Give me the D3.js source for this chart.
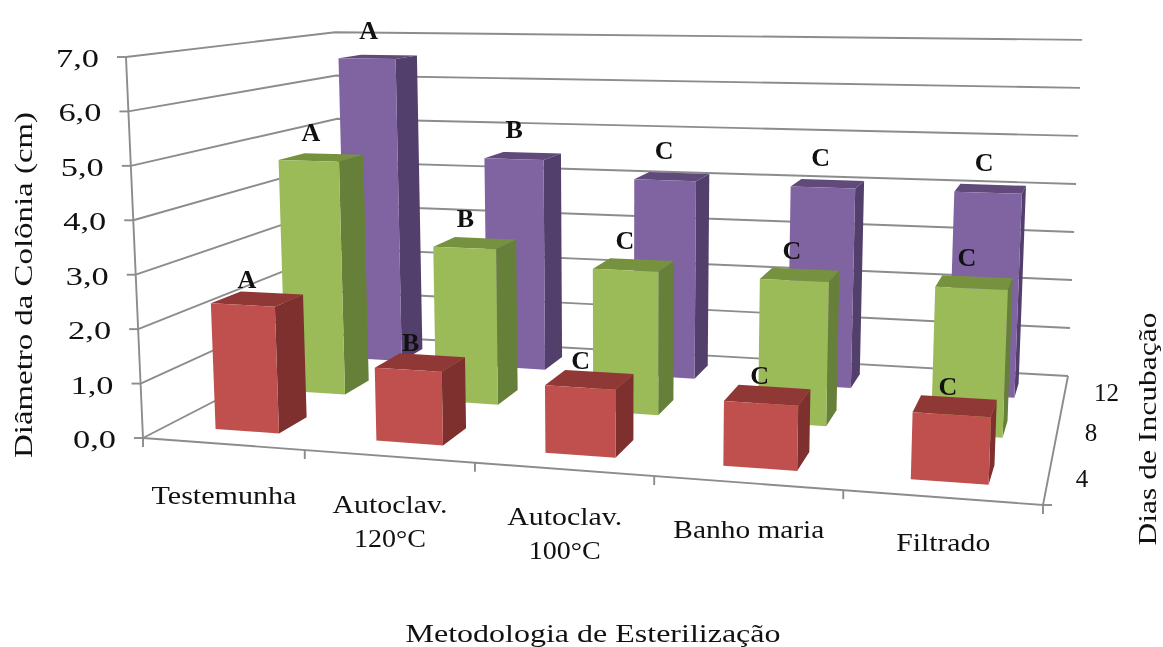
<!DOCTYPE html>
<html><head><meta charset="utf-8">
<script src="https://cdn.jsdelivr.net/npm/d3@7"></script>
<style>html,body{margin:0;background:#fff}svg{display:block;filter:blur(0.45px)}text{font-family:"Liberation Serif",serif;fill:#111}</style>
</head><body><svg id="c" width="1163" height="647"></svg>
<script>
const categories=["Testemunha","Autoclav.|120°C","Autoclav.|100°C","Banho maria","Filtrado"];
const days=["4","8","12"];
const day4=[2.35,1.33,1.2,1.12,1.13];
const day8=[4.68,3.05,2.75,2.7,2.7];
const day12=[6.55,4.45,4.1,4.05,4.05];
const letters4=["A","B","C","C","C"];
const letters8=["A","B","C","C","C"];
const letters12=["A","B","C","C","C"];
const yTicks=[0,1,2,3,4,5,6,7];
const yLabels=["0,0","1,0","2,0","3,0","4,0","5,0","6,0","7,0"];
const colors4=["#c0504d","#8f3836","#7d302e"];
const colors8=["#9bbb59","#76923f","#667f39"];
const colors12=["#8064a2","#604a7b","#533f6c"];

// floor of the 3D frame: [front-left, front-right, back-right, back-left]
const floorQuad=[[143,438],[1043,505],[1068,376],[343,335]];
function homography(q){
  const [[x0,y0],[x1,y1],[x2,y2],[x3,y3]]=q;
  const dx1=x1-x2,dx2=x3-x2,sx=x0-x1+x2-x3,dy1=y1-y2,dy2=y3-y2,sy=y0-y1+y2-y3;
  const d=dx1*dy2-dx2*dy1;
  const g=(sx*dy2-dx2*sy)/d,h=(dx1*sy-sx*dy1)/d;
  const a=x1-x0+g*x1,b=x3-x0+h*x3,c=x0,e=y1-y0+g*y1,f=y3-y0+h*y3,i=y0;
  return (u,v)=>{const w=g*u+h*v+1;return [(a*u+b*v+c)/w,(e*u+f*v+i)/w,w];};
}
const floorH=homography(floorQuad);
const wallHeight=381, leanCentre=620, leanRate=0.0000937;
const yS=d3.scaleLinear().domain([0,7]).range([0,1]);
const xS=d3.scaleBand().domain(categories).range([0.002,1.002]).paddingInner(0.6).paddingOuter(0.3);
const zS=d3.scaleBand().domain(days).range([0,1]).paddingInner(0.6).paddingOuter(0.3);
function P(u,v,t){const a=floorH(u,v),H=wallHeight/a[2]*(1-0.01*v)*t;return [a[0]+H*(a[0]-leanCentre)*leanRate,a[1]-H];}

const svg=d3.select("#c");
const gGrid=svg.append("g").attr("fill","none").attr("stroke","#8c8c8c").attr("stroke-width",1.9);
const line=d3.line();
yTicks.forEach(y=>{const t=yS(y);
  gGrid.append("path").attr("d",line([P(0,0,t),P(0,1,t),P(1,1,t)]));
});
gGrid.append("path").attr("d",line([P(0,0,0),P(0,0,1)]));
gGrid.append("path").attr("d",line([P(0,0,0),P(1,0,0),P(1,1,0)]));
yTicks.forEach(y=>{const p=P(0,0,yS(y));gGrid.append("path").attr("d",line([[p[0]-9,p[1]],p]));});
d3.range(categories.length+1).forEach(i=>{const p=P(i/categories.length,0,0);gGrid.append("path").attr("d",line([p,[p[0],p[1]+9]]));});
const zp=P(1,0,0);gGrid.append("path").attr("d",line([zp,[zp[0]+9,zp[1]]]));

const series=[
 {d:"12",vals:day12,col:colors12,let:letters12,dx:-2,dy:-2},
 {d:"8",vals:day8,col:colors8,let:letters8,dx:-3,dy:0},
 {d:"4",vals:day4,col:colors4,let:letters4,dx:-3,dy:5}];
const labels=[];
const gBars=svg.append("g");
series.forEach(s=>{
  const v0=zS(s.d),v1=v0+zS.bandwidth();
  categories.forEach((c,i)=>{
    const u0=xS(c),u1=u0+xS.bandwidth(),t=yS(s.vals[i]);
    const g=gBars.append("g");
    const poly=(pts,col)=>g.append("polygon").attr("points",pts.map(p=>p.join(",")).join(" ")).attr("fill",col);
    poly([P(u0,v0,t),P(u1,v0,t),P(u1,v1,t),P(u0,v1,t)],s.col[1]);
    poly([P(u1,v0,0),P(u1,v1,0),P(u1,v1,t),P(u1,v0,t)],s.col[2]);
    poly([P(u0,v0,0),P(u1,v0,0),P(u1,v0,t),P(u0,v0,t)],s.col[0]);
    const top=P((u0+u1)/2,(v0+v1)/2,t);
    labels.push({x:top[0]-8+4*(u0+u1)/2+s.dx,y:top[1]+s.dy,t:s.let[i]});
  });
});
svg.append("g").selectAll("text").data(labels).join("text")
  .attr("x",d=>d.x).attr("y",d=>d.y-16).attr("text-anchor","middle")
  .attr("font-size",26).attr("font-weight","bold").text(d=>d.t);
svg.append("g").selectAll("text").data(yTicks).join("text")
  .attr("x",y=>P(0,0,yS(y))[0]-27).attr("y",y=>P(0,0,yS(y))[1]+10)
  .attr("text-anchor","end").attr("font-size",25).attr("textLength",43).attr("lengthAdjust","spacingAndGlyphs").text((y,i)=>yLabels[i]);
const gx=svg.append("g");
const lblOff=[60,57,56,55,53];
const lblLen=[[145],[115,72],[115,72],[151],[94]];
categories.forEach((c,i)=>{
  const p=P(xS(c)+xS.bandwidth()/2,0,0);
  c.split("|").forEach((l,j)=>gx.append("text").attr("x",p[0]-0.5).attr("y",p[1]+lblOff[i]+j*34).attr("text-anchor","middle").attr("font-size",25).attr("textLength",lblLen[i][j]).attr("lengthAdjust","spacingAndGlyphs").text(l));
});
const zOff=[34,34,42];
days.forEach((d,i)=>{
  const p=P(1,zS(d)+zS.bandwidth()/2,0);
  svg.append("text").attr("x",p[0]+zOff[i]).attr("y",p[1]+8).attr("text-anchor","middle").attr("font-size",25).text(d);
});
svg.append("text").attr("x",593).attr("y",642).attr("text-anchor","middle").attr("font-size",26).attr("textLength",375).attr("lengthAdjust","spacingAndGlyphs").text("Metodologia de Esterilização");
svg.append("text").attr("transform","translate(32,285) rotate(-90)").attr("text-anchor","middle").attr("font-size",26).attr("textLength",346).attr("lengthAdjust","spacingAndGlyphs").text("Diâmetro da Colônia (cm)");
svg.append("text").attr("transform","translate(1156,429) rotate(-90)").attr("text-anchor","middle").attr("font-size",26).attr("textLength",233).attr("lengthAdjust","spacingAndGlyphs").text("Dias de Incubação");
</script></body></html>
